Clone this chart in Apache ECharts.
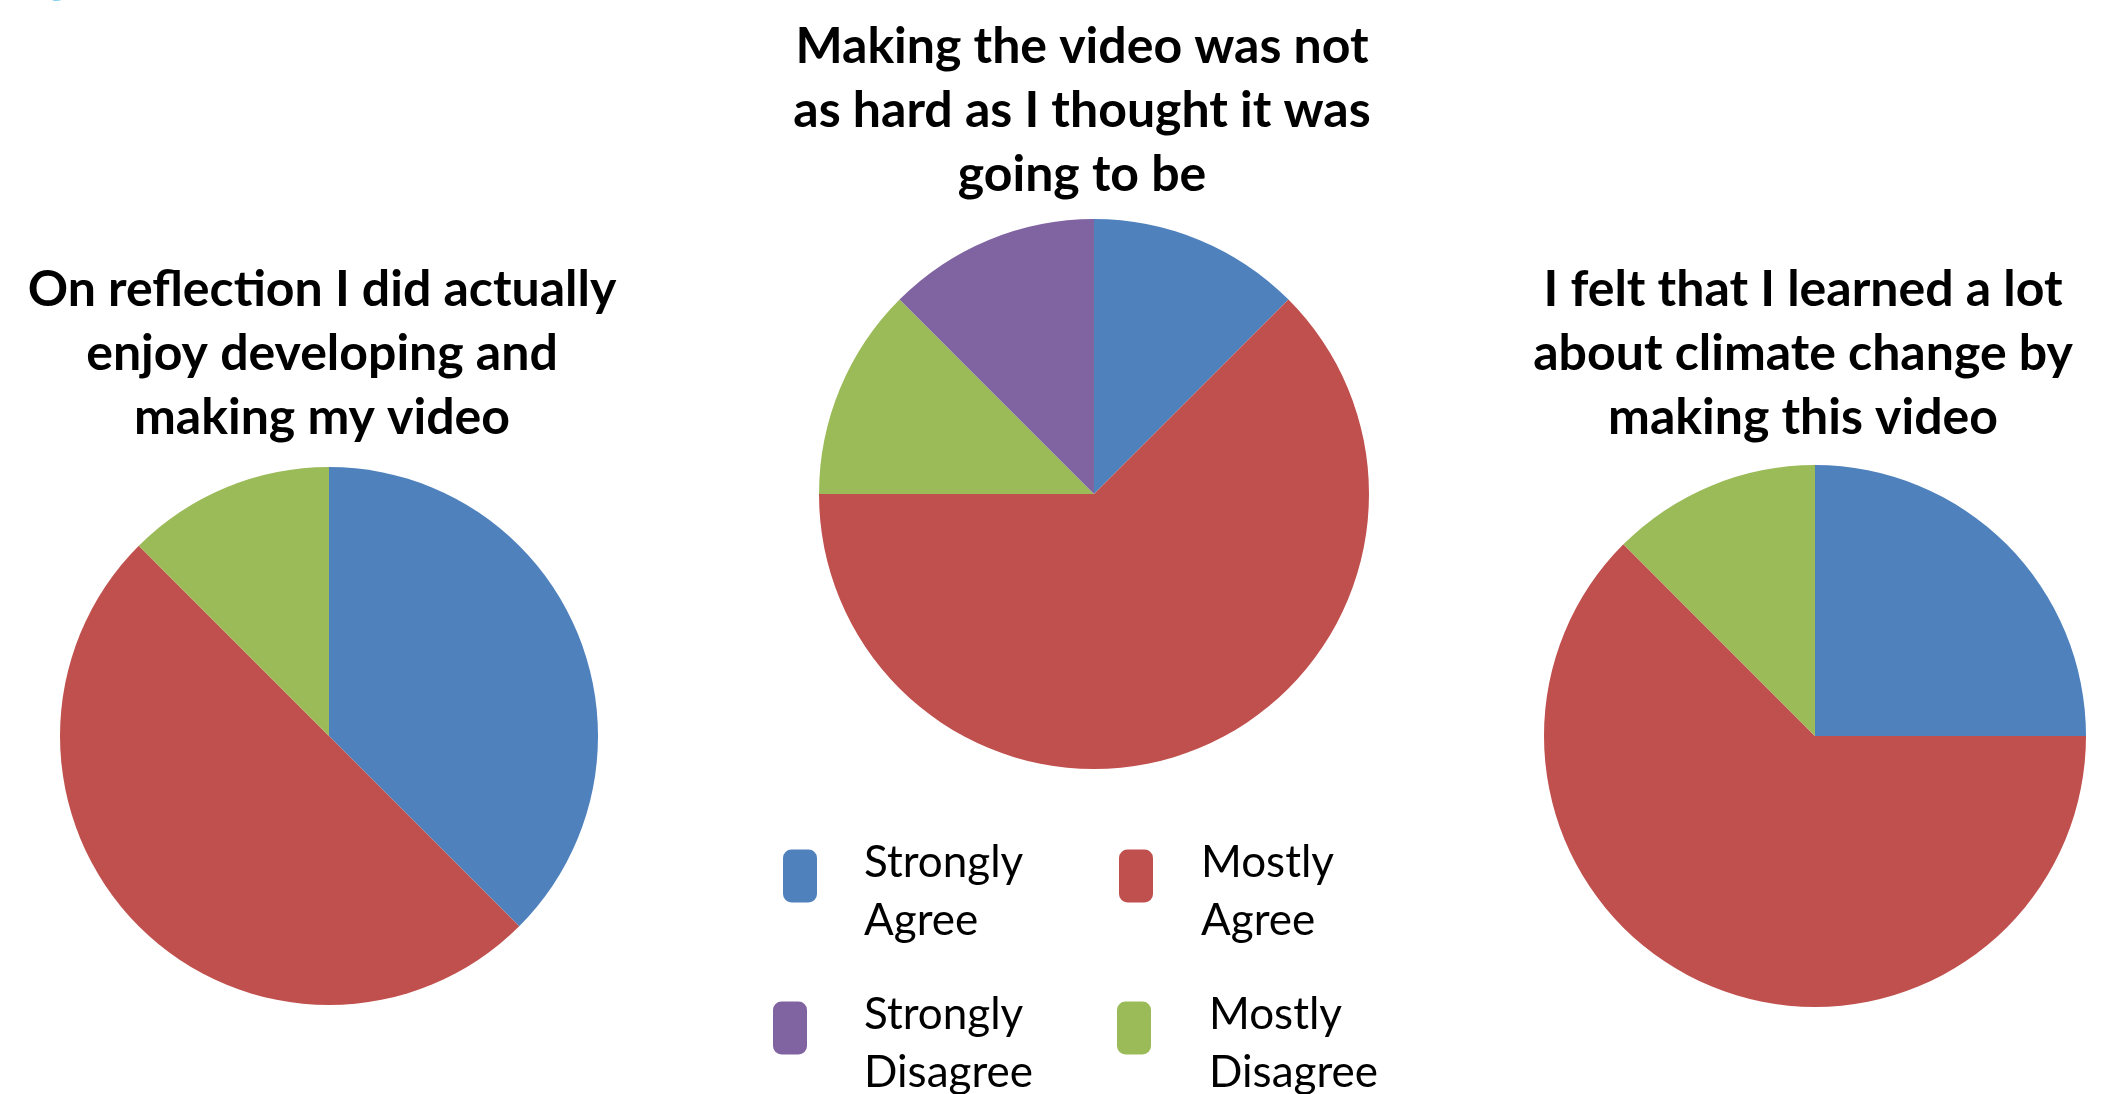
<!DOCTYPE html>
<html>
<head>
<meta charset="utf-8">
<script src="https://cdn.jsdelivr.net/npm/echarts@6/dist/echarts.min.js"></script>
<style>
  html, body { margin: 0; padding: 0; background: #fff; }
  #view1 { width: 2107px; height: 1094px; }
</style>
</head>
<body>
<div id="view1"></div>
<script>
// answer categories, in the order the slices run clockwise from 12 o'clock
var answers = ["Strongly Agree", "Mostly Agree", "Mostly Disagree", "Strongly Disagree"];
var colors = ["#4f81bd", "#c0504d", "#9bbb59", "#8064a2"];

var titles = [
  "On reflection I did actually\nenjoy developing and\nmaking my video",
  "Making the video was not\nas hard as I thought it was\ngoing to be",
  "I felt that I learned a lot\nabout climate change by\nmaking this video"
];

// number of answers per category (8 respondents)
var enjoyed = [3, 4, 1, 0];
var notHard = [1, 5, 1, 1];
var learned = [2, 5, 1, 0];

function toData(vals) {
  return answers.map(function (a, i) { return { name: a, value: vals[i] }; });
}

var font = "Lato, 'Noto Sans', sans-serif";

function pie(vals, cx, cy, r) {
  return {
    type: "pie",
    center: [cx, cy],
    radius: r,
    startAngle: 90,
    clockwise: true,
    label: { show: false },
    labelLine: { show: false },
    emphasis: { scale: false },
    silent: true,
    data: toData(vals)
  };
}

// one legend per entry so each can sit where it does on the slide
function legendItem(name, left, top, gap) {
  return {
    data: [name],
    left: left,
    top: top,
    padding: 0,
    icon: "roundRect",
    itemWidth: 34,
    itemHeight: 53,
    selectedMode: false,
    // empty first line pushes the two words a bit below the swatch centre
    formatter: function (n) {
      var w = n.split(" ");
      return "{s| }\n{t|" + w[0] + "}\n{t|" + w[1] + "}";
    },
    textStyle: {
      padding: [0, 0, 0, gap],
      rich: {
        s: { fontSize: 10, lineHeight: 32 },
        t: { fontFamily: font, fontSize: 44, lineHeight: 58, color: "#000" }
      }
    }
  };
}

function titleText(text, x, y) {
  return {
    type: "text",
    x: x,
    y: y,
    style: {
      text: text,
      fill: "#000",
      font: "bold 50px " + font,
      lineHeight: 64,
      textAlign: "center",
      textVerticalAlign: "middle"
    }
  };
}

var option = {
  animation: false,
  color: colors,
  legend: [
    legendItem("Strongly Agree", 783, 813, 42),
    legendItem("Mostly Agree", 1119, 813, 43),
    legendItem("Strongly Disagree", 773, 965, 52),
    legendItem("Mostly Disagree", 1117, 965, 53)
  ],
  graphic: [
    titleText(titles[0], 322, 354),
    titleText(titles[1], 1082, 111),
    titleText(titles[2], 1803, 354),
    // cut-off letter of the slide heading at the very top
    {
      type: "text",
      x: 44,
      y: -52,
      style: { text: "g", fill: "#1aa7e8", font: "bold 52px " + font }
    }
  ],
  series: [
    pie(enjoyed, 329, 736, 269),
    pie(notHard, 1094, 494, 275),
    pie(learned, 1815, 736, 271)
  ]
};

echarts.init(document.getElementById("view1")).setOption(option);
</script>
</body>
</html>
